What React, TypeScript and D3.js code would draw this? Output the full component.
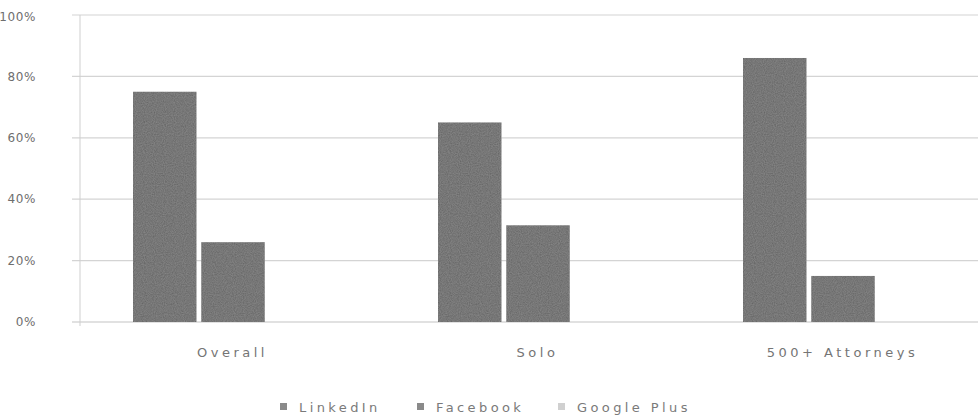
import * as d3 from "d3";

const categories = ["Overall", "Solo", "500+ Attorneys"];
const seriesNames = ["LinkedIn", "Facebook", "Google Plus"];
const linkedin = [75, 65, 86];
const facebook = [26, 31.5, 15];
const googlePlus = [0, 0, 0];
const yTicks = [0, 20, 40, 60, 80, 100];

const W = 978;
const H = 420;
const margin = { top: 15, right: -17, bottom: 98, left: 80 };

const colors = ["#878787", "#878787", "#e2e2e2"];
const font = "'DejaVu Sans', Verdana, sans-serif";

export default function App() {
  const series = [linkedin, facebook, googlePlus];
  const x0 = d3
    .scaleBand()
    .domain(categories)
    .range([margin.left, W - margin.right])
    .paddingInner(0)
    .paddingOuter(0);
  const x1 = d3
    .scaleBand()
    .domain(seriesNames)
    .range([53, x0.bandwidth() - 52])
    .paddingInner(0.07);
  const y = d3.scaleLinear().domain([0, 100]).range([H - margin.bottom, margin.top]);

  const legendX = [280, 417, 558];

  return (
    <svg
      width={W}
      height={H}
      style={{ position: "absolute", left: 0, top: 0, background: "#fff" }}
      fontFamily={font}
    >
      <defs>
        <filter id="grain" x="0" y="0" width="100%" height="100%">
          <feTurbulence type="fractalNoise" baseFrequency="0.9" numOctaves="2" seed="3" result="n" />
          <feColorMatrix
            in="n"
            type="matrix"
            values="0 0 0 0 0.52  0 0 0 0 0.52  0 0 0 0 0.52  0 0 0 -1.1 1.05"
            result="g"
          />
          <feComposite in="g" in2="SourceGraphic" operator="in" result="c" />
          <feBlend in="c" in2="SourceGraphic" mode="multiply" />
        </filter>
      </defs>

      {/* gridlines + y labels */}
      {yTicks.map((t) => (
        <g key={t}>
          <line
            x1={72}
            x2={W}
            y1={y(t)}
            y2={y(t)}
            stroke={t === 0 ? "#c4c4c4" : "#d4d4d4"}
            strokeWidth={1.2}
          />
          <text
            x={36}
            y={Math.max(y(t), 17)}
            dy="0.35em"
            textAnchor="end"
            fontSize={12}
            letterSpacing={0.6}
            fill="#6e6e6e"
          >
            {t}%
          </text>
        </g>
      ))}
      <line x1={80} x2={80} y1={y(100)} y2={y(0) + 4} stroke="#cfcfcf" strokeWidth={1} />

      {/* bars */}
      {categories.map((c, ci) => (
        <g key={c} transform={`translate(${x0(c)},0)`}>
          {seriesNames.map((s, si) => {
            const v = series[si][ci];
            if (v <= 0) return null;
            return (
              <rect
                key={s}
                x={x1(s)}
                y={y(v)}
                width={x1.bandwidth()}
                height={y(0) - y(v)}
                fill={colors[si]}
                filter="url(#grain)"
              />
            );
          })}
          <text
            x={x0.bandwidth() / 2}
            y={y(0) + 30}
            dy="0.35em"
            textAnchor="middle"
            fontSize={13}
            letterSpacing={3.5}
            fill="#757575"
          >
            {c}
          </text>
        </g>
      ))}

      {/* legend */}
      {seriesNames.map((s, i) => (
        <g key={s} transform={`translate(${legendX[i]},407)`}>
          <rect x={0} y={-4} width={7} height={7} fill={i === 2 ? "#d0d0d0" : "#8a8a8a"} />
          <text x={19} y={0} dy="0.35em" fontSize={13} letterSpacing={3.4} fill="#7a7a7a">
            {s}
          </text>
        </g>
      ))}
    </svg>
  );
}
